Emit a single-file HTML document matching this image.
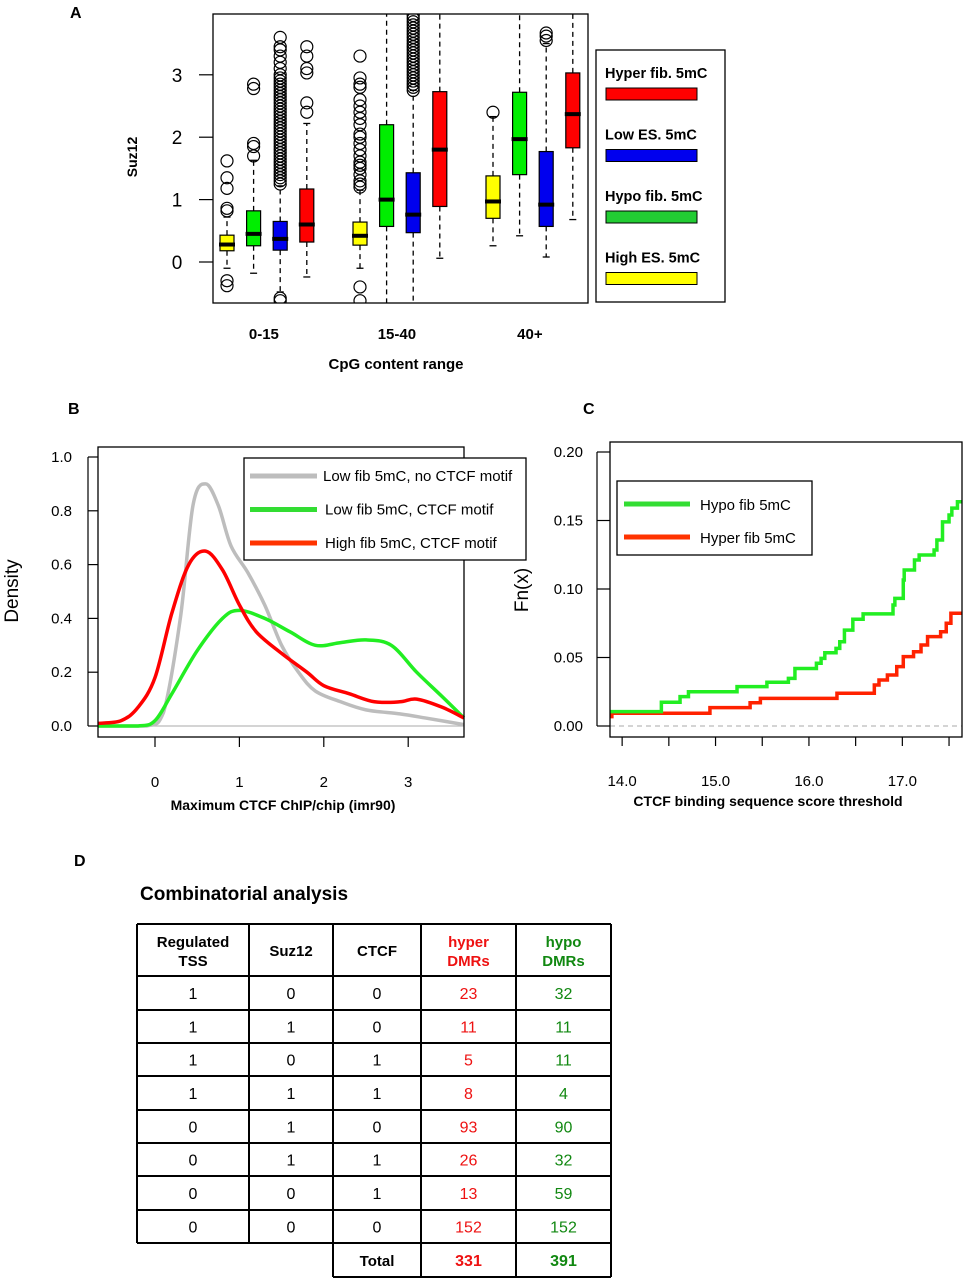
<!DOCTYPE html>
<html><head><meta charset="utf-8">
<style>
body{margin:0;background:#fff;}
svg{display:block;font-family:"Liberation Sans",Arial,sans-serif;}
</style></head>
<body>
<svg id="fig" width="965" height="1280" viewBox="0 0 965 1280" xmlns="http://www.w3.org/2000/svg">
<text x="70" y="18" font-size="16" font-weight="bold">A</text>
<text x="68" y="414" font-size="16" font-weight="bold">B</text>
<text x="583" y="414" font-size="16" font-weight="bold">C</text>
<text x="74" y="866" font-size="16" font-weight="bold">D</text>
<g id="pa"></g>
<g id="pb"></g>
<g id="pc"></g>
<g id="pd"></g>
</svg>
<script>
// ---------- Panel A data ----------
const aGroups = ["0-15","15-40","40+"];
const aSeriesColors = ["#ffff00","#00ee00","#0000ee","#ff0000"];
const aQ1  = [0.18,0.26,0.19,0.32, 0.27,0.57,0.47,0.89, 0.70,1.40,0.57,1.83];
const aMed = [0.28,0.45,0.37,0.60, 0.42,1.00,0.76,1.80, 0.97,1.97,0.92,2.37];
const aQ3  = [0.43,0.82,0.65,1.17, 0.64,2.20,1.43,2.73, 1.38,2.72,1.77,3.03];
const aLo  = [-0.10,-0.18,-0.48,-0.24, -0.10,-0.70,-0.70,0.06, 0.26,0.42,0.08,0.68];
const aHi  = [0.72,1.63,1.22,2.22, 1.15,4.10,2.75,4.10, 2.33,4.10,3.50,4.10];
const aOut = [
 [-0.38,-0.30,0.82,0.86,1.18,1.35,1.62],
 [1.70,1.85,1.90,2.78,2.85],
 [-0.62,-0.58,1.25,1.3,1.35,1.4,1.45,1.5,1.55,1.6,1.65,1.7,1.75,1.8,1.85,1.9,1.95,2.0,2.05,2.1,2.15,2.2,2.25,2.3,2.35,2.4,2.45,2.5,2.55,2.6,2.65,2.7,2.75,2.8,2.85,2.9,2.95,3.0,3.1,3.2,3.3,3.4,3.45,3.6],
 [2.40,2.55,3.03,3.10,3.30,3.45],
 [-0.62,-0.40,1.2,1.25,1.3,1.4,1.5,1.55,1.6,1.7,1.8,1.9,2.0,2.05,2.2,2.3,2.4,2.5,2.6,2.8,2.85,2.95,3.3],
 [],
 [2.75,2.8,2.85,2.9,2.95,3.0,3.05,3.1,3.15,3.2,3.25,3.3,3.35,3.4,3.45,3.5,3.55,3.6,3.65,3.7,3.75,3.8,3.85,3.9,3.95],
 [],
 [2.40],[],[3.55,3.62,3.67],[]
];
const aPos = [1,2,3,4,6,7,8,9,11,12,13,14];
const aTicks = [0,1,2,3];
const aLegend = ["Hyper fib. 5mC","Low ES. 5mC","Hypo fib. 5mC","High ES. 5mC"];
const aLegendColors = ["#ff0000","#0000ee","#22cc33","#ffff00"];

// ---------- Panel B data ----------
const bTicksX = [0,1,2,3];
const bTicksY = [0,0.2,0.4,0.6,0.8,1.0];
const bGrayX = [-0.67,-0.1,0.1,0.3,0.45,0.6,0.75,0.9,1.1,1.3,1.5,1.7,1.9,2.2,2.5,2.9,3.2,3.66];
const bGrayY = [0,0,0.05,0.4,0.82,0.9,0.82,0.67,0.57,0.45,0.3,0.2,0.13,0.09,0.06,0.045,0.03,0.005];
const bRedX = [-0.67,-0.4,-0.2,0,0.2,0.4,0.6,0.8,1.0,1.2,1.5,1.8,2.0,2.3,2.6,2.9,3.1,3.4,3.66];
const bRedY = [0.01,0.02,0.07,0.18,0.42,0.6,0.65,0.58,0.45,0.35,0.27,0.2,0.15,0.12,0.09,0.09,0.1,0.07,0.03];
const bGreenX = [-0.67,-0.2,0,0.2,0.5,0.8,1.0,1.3,1.6,1.9,2.2,2.5,2.8,3.1,3.4,3.66];
const bGreenY = [0,0,0.02,0.12,0.28,0.4,0.43,0.4,0.35,0.3,0.31,0.32,0.3,0.2,0.11,0.03];
const bLegend = ["Low fib 5mC, no CTCF motif","Low fib 5mC, CTCF motif","High fib 5mC, CTCF motif"];

// ---------- Panel C data ----------
const cTicksX = [14.0,15.0,16.0,17.0];
const cMinorX = [14.0,14.5,15.0,15.5,16.0,16.5,17.0,17.5];
const cTicksY = [0,0.05,0.10,0.15,0.20];
const cHypoX = [13.87,14.42,14.62,14.71,15.23,15.55,15.78,15.85,16.08,16.13,16.17,16.29,16.33,16.38,16.47,16.58,16.90,16.92,17.01,17.02,17.13,17.18,17.34,17.37,17.43,17.50,17.53,17.59];
const cHypoY = [0.0105,0.0173,0.0214,0.025,0.0287,0.0319,0.0348,0.042,0.0458,0.0494,0.0535,0.0567,0.0615,0.070,0.0779,0.0818,0.0883,0.0932,0.1066,0.1139,0.1212,0.1248,0.1285,0.1358,0.149,0.154,0.159,0.1637];
const cHyperX = [13.87,13.89,14.94,15.37,15.48,16.30,16.70,16.75,16.84,16.94,17.01,17.12,17.20,17.27,17.41,17.47,17.52];
const cHyperY = [0.0068,0.0093,0.0134,0.017,0.0202,0.0239,0.0299,0.0336,0.0372,0.0433,0.0506,0.0542,0.0591,0.0652,0.0688,0.075,0.0823];

// ---------- Panel D data ----------
const dHeaders = ["Regulated|TSS","Suz12","CTCF","hyper|DMRs","hypo|DMRs"];
const dTSS   = [1,1,1,1,0,0,0,0];
const dSuz   = [0,1,0,1,1,1,0,0];
const dCTCF  = [0,0,1,1,0,1,1,0];
const dHyper = [23,11,5,8,93,26,13,152];
const dHypo  = [32,11,11,4,90,32,59,152];
const dTotals = [331,391];

const NS="http://www.w3.org/2000/svg";
function mk(parent, tag, attrs, txt){
  const e=document.createElementNS(NS,tag);
  for(const k in attrs) e.setAttribute(k,attrs[k]);
  if(txt!==undefined) e.textContent=txt;
  parent.appendChild(e); return e;
}

// ===== Panel A =====
(function(){
  const g=document.getElementById('pa');
  const L=213,R=588,T=14,B=303;
  const ya=v=>262-v*62.4;
  const xa=p=>227+(p-1)*26.6;
  const clip=mk(g,'clipPath',{id:'clipA'});
  mk(clip,'rect',{x:L,y:T,width:R-L,height:B-T});
  const inner=mk(g,'g',{'clip-path':'url(#clipA)'});
  for(let i=0;i<aPos.length;i++){
    const x=xa(aPos[i]), w=14, col=aSeriesColors[i%4];
    const bg=mk(inner,'g',{});
    
    
    mk(bg,'line',{x1:x,x2:x,y1:ya(aQ3[i]),y2:ya(aHi[i]),stroke:'#000','stroke-width':1.3,'stroke-dasharray':'5,4'});
    mk(bg,'line',{x1:x,x2:x,y1:ya(aQ1[i]),y2:ya(aLo[i]),stroke:'#000','stroke-width':1.3,'stroke-dasharray':'5,4'});
    mk(bg,'line',{x1:x-3.5,x2:x+3.5,y1:ya(aHi[i]),y2:ya(aHi[i]),stroke:'#000','stroke-width':1.3});
    mk(bg,'line',{x1:x-3.5,x2:x+3.5,y1:ya(aLo[i]),y2:ya(aLo[i]),stroke:'#000','stroke-width':1.3});
    mk(bg,'rect',{x:x-w/2,y:ya(aQ3[i]),width:w,height:ya(aQ1[i])-ya(aQ3[i]),fill:col,stroke:'#000','stroke-width':1.2});
    mk(bg,'line',{x1:x-w/2-1,x2:x+w/2+1,y1:ya(aMed[i]),y2:ya(aMed[i]),stroke:'#000','stroke-width':4});
    aOut[i].forEach(v=>{
      const c=mk(bg,'circle',{cx:x,cy:ya(v),r:6,fill:'none',stroke:'#000','stroke-width':1.2});
      
      
    });
  }
  mk(g,'rect',{x:L,y:T,width:R-L,height:B-T,fill:'none',stroke:'#000','stroke-width':1.3});
  aTicks.forEach(t=>{
    mk(g,'line',{x1:199,x2:L,y1:ya(t),y2:ya(t),stroke:'#000','stroke-width':1.2});
    const tx=mk(g,'text',{x:177,y:ya(t)+7,'font-size':19,'text-anchor':'middle'},String(t));
    
    
  });
  aGroups.forEach((lab,k)=>{
    const tx=mk(g,'text',{x:xa(aPos[k*4])+ (xa(aPos[k*4+3])-xa(aPos[k*4]))/2-3,y:339,'font-size':15,'font-weight':'bold','text-anchor':'middle'},lab);
    
    
  });
  const xt=mk(g,'text',{x:396,y:369,'font-size':15,'font-weight':'bold','text-anchor':'middle'},'CpG content range');
  
  
  const yt=mk(g,'text',{x:0,y:0,'font-size':14,'font-weight':'bold','text-anchor':'middle',transform:'translate(137,157) rotate(-90)'},'Suz12');
  
  
  const lg=mk(g,'g',{});
  
  
  mk(lg,'rect',{x:596,y:50,width:129,height:252,fill:'none',stroke:'#000','stroke-width':1.3});
  aLegend.forEach((s,k)=>{
    const t=mk(lg,'text',{x:605,y:78+k*61.5,'font-size':14.5,'font-weight':'bold'},s);
    
    
    mk(lg,'rect',{x:606,y:88+k*61.5,width:91,height:12,fill:aLegendColors[k],stroke:'#000','stroke-width':1});
  });
})();

// ===== Panel B =====
(function(){
  const g=document.getElementById('pb');
  const L=98,R=464,T=447,B=737;
  const xb=v=>155+v*84.4, yb=v=>726-v*269;
  mk(g,'line',{x1:L,x2:R,y1:yb(0),y2:yb(0),stroke:'#bbb','stroke-width':1.2});
  const series=[[bGrayX,bGrayY,'#bdbdbd','gray-density-line'],[bRedX,bRedY,'#ff0000','red-density-line'],[bGreenX,bGreenY,'#22ee22','green-density-line']];
  [series[0],series[2],series[1]].forEach(s=>{
    const P=s[0].map((v,i)=>[xb(v),yb(s[1][i])]);
    let d='M'+P[0][0]+','+P[0][1];
    for(let i=0;i<P.length-1;i++){
      const p0=P[Math.max(0,i-1)],p1=P[i],p2=P[i+1],p3=P[Math.min(P.length-1,i+2)];
      const c1x=p1[0]+(p2[0]-p0[0])/6, c1y=p1[1]+(p2[1]-p0[1])/6;
      const c2x=p2[0]-(p3[0]-p1[0])/6, c2y=p2[1]-(p3[1]-p1[1])/6;
      d+=' C'+c1x+','+Math.min(c1y,yb(0))+' '+c2x+','+Math.min(c2y,yb(0))+' '+p2[0]+','+p2[1];
    }
    const p=mk(g,'path',{d:d,fill:'none',stroke:s[2],'stroke-width':3.5,'stroke-linejoin':'round'});
    
    
  });
  mk(g,'rect',{x:L,y:T,width:R-L,height:B-T,fill:'none',stroke:'#000','stroke-width':1.3});
  bTicksX.forEach(t=>{
    mk(g,'line',{x1:xb(t),x2:xb(t),y1:B,y2:B+10,stroke:'#000','stroke-width':1.2});
    const tx=mk(g,'text',{x:xb(t),y:787,'font-size':15,'text-anchor':'middle'},String(t));
    
    
  });
  mk(g,'line',{x1:88,x2:88,y1:yb(0),y2:yb(1),stroke:'#000','stroke-width':1.2});
  bTicksY.forEach(t=>{
    mk(g,'line',{x1:88,x2:L,y1:yb(t),y2:yb(t),stroke:'#000','stroke-width':1.2});
    const tx=mk(g,'text',{x:72,y:yb(t)+5,'font-size':15,'text-anchor':'end'},t.toFixed(1));
    
    
  });
  const xt=mk(g,'text',{x:283,y:810,'font-size':14,'font-weight':'bold','text-anchor':'middle'},'Maximum CTCF ChIP/chip (imr90)');
  
  
  const yt=mk(g,'text',{x:0,y:0,'font-size':19,'text-anchor':'middle',transform:'translate(18,591) rotate(-90)'},'Density');
  
  
  const lg=mk(g,'g',{});
  
  
  mk(lg,'rect',{x:244,y:458,width:282,height:102,fill:'#fff',stroke:'#000','stroke-width':1.3});
  const lc=['#bdbdbd','#33dd33','#ff3300'];
  bLegend.forEach((s,k)=>{
    mk(lg,'line',{x1:250,x2:317,y1:476+k*33.5,y2:476+k*33.5,stroke:lc[k],'stroke-width':5});
    const t=mk(lg,'text',{x:k===0?323:325,y:481+k*33.5,'font-size':15},s);
    
    
  });
})();

// ===== Panel C =====
(function(){
  const g=document.getElementById('pc');
  const L=610,R=962,T=442,B=737;
  const xc=v=>610+(v-13.87)*93.4, yc=v=>726-v*1370;
  mk(g,'line',{x1:L,x2:R,y1:yc(0),y2:yc(0),stroke:'#aaa','stroke-width':1,'stroke-dasharray':'5,4'});
  function step(X,Y,col,name){
    let d='M'+xc(X[0])+','+yc(Y[0]);
    for(let i=1;i<X.length;i++){ d+=' H'+xc(X[i])+' V'+yc(Y[i]); }
    d+=' H'+xc(17.64);
    const p=mk(g,'path',{d:d,fill:'none',stroke:col,'stroke-width':3.5});
    
    
  }
  step(cHyperX,cHyperY,'#ff2200','hyper-ecdf-line');
  step(cHypoX,cHypoY,'#22ee22','hypo-ecdf-line');
  mk(g,'rect',{x:L,y:T,width:R-L,height:B-T,fill:'none',stroke:'#000','stroke-width':1.3});
  cMinorX.forEach(t=>{
    mk(g,'line',{x1:xc(t),x2:xc(t),y1:B,y2:B+9,stroke:'#000','stroke-width':1.2});
  });
  cTicksX.forEach(t=>{
    const tx=mk(g,'text',{x:xc(t),y:786,'font-size':15,'text-anchor':'middle'},t.toFixed(1));
    
    
  });
  cTicksY.forEach(t=>{
    mk(g,'line',{x1:597,x2:L,y1:yc(t),y2:yc(t),stroke:'#000','stroke-width':1.2});
    const tx=mk(g,'text',{x:583,y:yc(t)+5,'font-size':15,'text-anchor':'end'},t.toFixed(2));
    
    
  });
  mk(g,'line',{x1:597,x2:597,y1:yc(0),y2:yc(0.2),stroke:'#000','stroke-width':1.2});
  const xt=mk(g,'text',{x:768,y:806,'font-size':14,'font-weight':'bold','text-anchor':'middle'},'CTCF binding sequence score threshold');
  
  
  const yt=mk(g,'text',{x:0,y:0,'font-size':19,'text-anchor':'middle',transform:'translate(528,590) rotate(-90)'},'Fn(x)');
  
  
  const lg=mk(g,'g',{});
  
  
  mk(lg,'rect',{x:617,y:481,width:195,height:74,fill:'#fff',stroke:'#000','stroke-width':1.3});
  [['Hypo fib 5mC','#33dd33'],['Hyper fib 5mC','#ff3300']].forEach((s,k)=>{
    mk(lg,'line',{x1:624,x2:690,y1:504+k*33,y2:504+k*33,stroke:s[1],'stroke-width':5});
    const t=mk(lg,'text',{x:700,y:510+k*33,'font-size':15},s[0]);
    
    
  });
})();

// ===== Panel D =====
(function(){
  const g=document.getElementById('pd');
  const tt=mk(g,'text',{x:140,y:900,'font-size':19,'font-weight':'bold'},'Combinatorial analysis');
  
  
  const cx=[137,249,333,421,516,611];
  const ry=[924,976,1010,1043,1076,1110,1143,1176,1210];
  const hcol=['#000','#000','#000','#ee1111','#118811'];
  const sw=2;
  ry.forEach(y=>mk(g,'line',{x1:cx[0],x2:cx[5],y1:y,y2:y,stroke:'#000','stroke-width':sw}));
  mk(g,'line',{x1:cx[0],x2:cx[5],y1:1243,y2:1243,stroke:'#000','stroke-width':sw});
  mk(g,'line',{x1:cx[2],x2:cx[5],y1:1277,y2:1277,stroke:'#000','stroke-width':sw});
  cx.forEach((x,i)=>{
    mk(g,'line',{x1:x,x2:x,y1:924,y2:(i>=2?1277:1243),stroke:'#000','stroke-width':sw});
  });
  dHeaders.forEach((h,i)=>{
    const parts=h.split('|');
    const mid=(cx[i]+cx[i+1])/2;
    parts.forEach((p,j)=>{
      const y=parts.length===1?956:947+j*19;
      const t=mk(g,'text',{x:mid,y:y,'font-size':15,'font-weight':'bold','text-anchor':'middle',fill:hcol[i]},p);
      
      
    });
  });
  const cols=[dTSS,dSuz,dCTCF,dHyper,dHypo];
  for(let r=0;r<dTSS.length;r++){
    const y=(ry[r+1]+(r+2<ry.length?ry[r+2]:1243))/2+6;
    cols.forEach((arr,i)=>{
      const mid=(cx[i]+cx[i+1])/2;
      const t=mk(g,'text',{x:mid,y:y,'font-size':16,'text-anchor':'middle',fill:hcol[i]},String(arr[r]));
      
      
    });
  }
  const tl=mk(g,'text',{x:(cx[2]+cx[3])/2,y:1266,'font-size':15,'font-weight':'bold','text-anchor':'middle'},'Total');
  
  
  dTotals.forEach((v,k)=>{
    const t=mk(g,'text',{x:(cx[3+k]+cx[4+k])/2,y:1266,'font-size':16,'font-weight':'bold','text-anchor':'middle',fill:hcol[3+k]},String(v));
    
    
  });
})();
</script>
</body></html>
